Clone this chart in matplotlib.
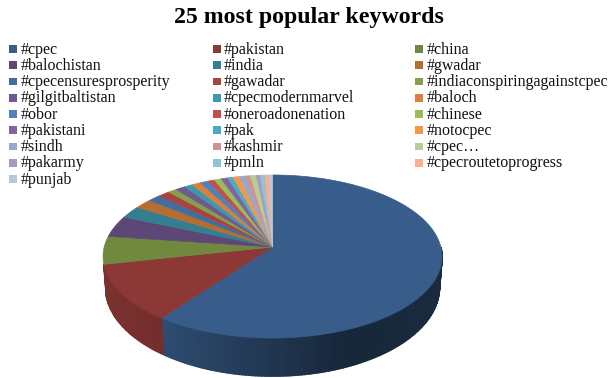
import numpy as np
import matplotlib
matplotlib.use('Agg')  # Non-interactive Backend
import matplotlib.pyplot as plt
from matplotlib.colors import to_rgb

keywords = ['#cpec', '#pakistan', '#china', '#balochistan', '#india', '#gwadar',
            '#cpecensuresprosperity', '#gawadar', '#indiaconspiringagainstcpec',
            '#gilgitbaltistan', '#cpecmodernmarvel', '#baloch', '#obor',
            '#oneroadonenation', '#chinese', '#pakistani', '#pak', '#notocpec',
            '#sindh', '#kashmir', '#cpec…', '#pakarmy', '#pmln',
            '#cpecroutetoprogress', '#punjab']
shares = [60.1, 11.4, 5.5, 4.2, 2.4, 1.9, 1.4, 1.25, 0.95, 1.05, 0.9, 0.95,
          0.85, 0.72, 0.75, 0.72, 0.58, 0.69, 0.64, 0.53, 0.61, 0.44, 0.47,
          0.49, 0.32]
colors = ['#385d8a', '#8c3836', '#71893f', '#5c4776', '#357d91', '#b66d31',
          '#426da1', '#a94340', '#869f4a', '#6e5a8e', '#3f97ae', '#d9803c',
          '#4f81bd', '#c0504d', '#9bbb59', '#8064a2', '#4bacc6', '#f79646',
          '#95a9d0', '#d19392', '#b9cd96', '#a99bbd', '#92c3d4', '#fab08a',
          '#bac7e0']

# pie geometry in pixels, tilted with a little perspective
cx, cy = 272.5, 247.0
rx, ry = 168.3, 80.4
persp = 0.1166


def project(theta, xscale=1.0, yscale=1.0, drop=0.0):
    # theta runs clockwise from 12 o'clock, in radians
    x, y = np.sin(theta), -np.cos(theta)
    s = 1.0 / (1.0 - persp * y)
    return cx + xscale * rx * x * s, cy + drop + yscale * ry * y * s


def wall_shade(px):
    return np.interp(px, [104, 162, 345, 442], [0.88, 0.82, 0.42, 0.46])


fig = plt.figure(figsize=(6.09, 3.78), dpi=100)
ax = fig.add_axes([0, 0, 1, 1])
ax.set_xlim(0, 609)
ax.set_ylim(378, 0)
ax.axis('off')

edges = np.radians(np.concatenate([[0], np.cumsum(shares)]) / sum(shares) * 360)

# side wall first, only the two big slices reach the front
for i, col in enumerate(colors[:2]):
    a0, a1 = max(edges[i], np.pi / 2), edges[i + 1]
    steps = np.linspace(a0, a1, int((a1 - a0) * 60) + 2)
    for t0, t1 in zip(steps[:-1], steps[1:]):
        tt = np.array([t0, t1])
        xt, yt = project(tt)
        xb, yb = project(tt[::-1], 0.985, 1.088, 30.0)
        rgb = np.array(to_rgb(col)) * wall_shade(xt.mean())
        ax.fill(np.r_[xt, xb], np.r_[yt, yb], color=rgb, lw=1.2)

# top face
for i, col in enumerate(colors):
    tt = np.linspace(edges[i], edges[i + 1], max(int((edges[i + 1] - edges[i]) * 60), 3))
    xt, yt = project(tt)
    ax.fill(np.r_[cx, xt], np.r_[cy, yt], color=col, lw=0.5)

# legend, three columns filled row by row
col_x = [20.5, 224, 426.7]
row_y = [53.6, 69.9, 86.1, 102.4, 118.6, 134.9, 151.1, 167.4, 183.6]
for i, (name, col) in enumerate(zip(keywords, colors)):
    row, column = divmod(i, 3)
    tx, ty = col_x[column], row_y[row]
    ax.fill([tx - 11.5, tx - 3.5, tx - 3.5, tx - 11.5], [ty - 8.6, ty - 8.6, ty - 0.8, ty - 0.8],
            color=col, lw=0)
    ax.text(tx, ty, name, family='Liberation Serif', fontsize=11.5, color='#111111',
            va='baseline', ha='left')

ax.text(309, 23.3, '25 most popular keywords', family='Liberation Serif', fontsize=17.2,
        fontweight='bold', color='black', ha='center', va='baseline')

plt.savefig('out.png', dpi=100)
